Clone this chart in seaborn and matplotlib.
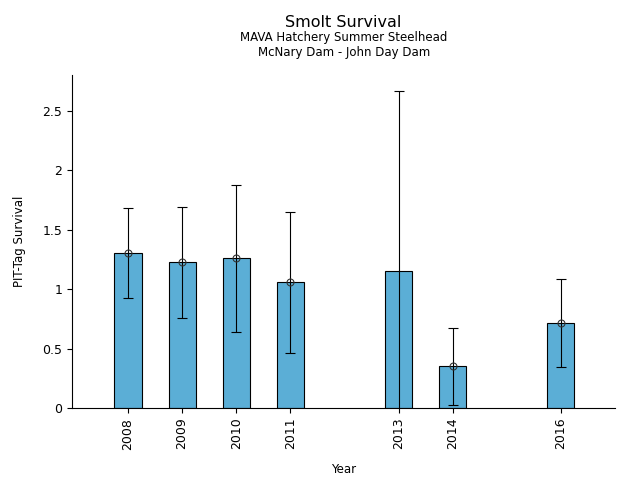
import pandas as pd
import matplotlib
matplotlib.use("Agg")
import matplotlib.pyplot as plt
import seaborn as sns

# values
years = [2008, 2009, 2010, 2011, 2013, 2014, 2016]
survival = [1.305, 1.226, 1.26, 1.058, 1.15, 0.351, 0.713]
ci_low = [0.923, 0.757, 0.64, 0.463, -0.37, 0.023, 0.343]
ci_high = [1.681, 1.689, 1.875, 1.647, 2.668, 0.671, 1.083]
show_point = [True, True, True, True, False, True, True]

df = pd.DataFrame({"Year": years, "Survival": survival,
                   "lo": ci_low, "hi": ci_high, "pt": show_point})

fig = plt.figure(figsize=(6.4, 4.8), dpi=100)
ax = fig.add_axes([0.1125, 0.15, 0.8485, 0.694])

sns.barplot(data=df, x="Year", y="Survival", native_scale=True, width=0.5,
            color="#5BAED6", saturation=1, edgecolor="black", linewidth=0.8,
            errorbar=None, ax=ax)

# error bars from the interval columns
ax.errorbar(df["Year"], df["Survival"],
            yerr=[df["Survival"] - df["lo"], df["hi"] - df["Survival"]],
            fmt="none", ecolor="black", elinewidth=0.8, capsize=3.5, capthick=0.8)
pts = df[df["pt"]]
ax.plot(pts["Year"], pts["Survival"], "o", mfc="none", mec="#333333",
        ms=5, mew=0.8)

ax.set_xlim(2006.965, 2017.0)
ax.set_ylim(0, 2.8)
ax.set_xticks(years)
ax.set_xticklabels([str(y) for y in years], rotation=90, fontsize=9)
ax.set_yticks([0, 0.5, 1, 1.5, 2, 2.5])
ax.set_yticklabels(["0", "0.5", "1", "1.5", "2", "2.5"], fontsize=9)
ax.set_xlabel("Year", fontsize=8.5, labelpad=10)
ax.set_ylabel("PIT-Tag Survival", fontsize=8.5, labelpad=12)
sns.despine(ax=ax)

fig.text(0.537, 0.953, "Smolt Survival", ha="center", va="center", fontsize=11.5)
fig.text(0.537, 0.921, "MAVA Hatchery Summer Steelhead", ha="center", va="center", fontsize=8.5)
fig.text(0.537, 0.891, "McNary Dam - John Day Dam", ha="center", va="center", fontsize=8.5)

fig.savefig("out.png", dpi=100)
